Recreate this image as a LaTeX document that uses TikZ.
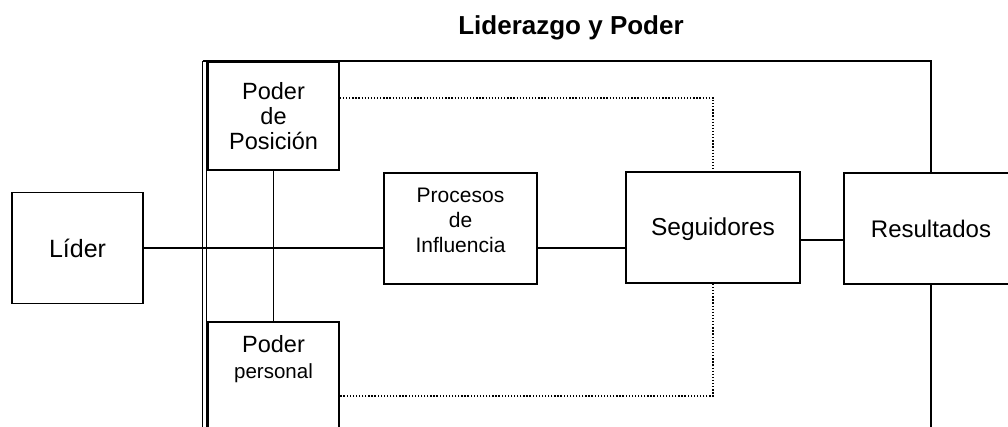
\documentclass[tikz,border=0pt]{standalone}
\usepackage{fontspec}
\setmainfont{Liberation Sans}
\begin{document}
\begin{tikzpicture}[x=1pt,y=-1pt,
  box/.style={draw,line width=1.6pt,rectangle,inner sep=0pt,align=center},
  conn/.style={line width=1.6pt},
  dots/.style={line width=1.3pt,dash pattern=on 1.3pt off 1.8pt}]
\useasboundingbox (0,0) rectangle (1008,426);
\clip (0,0) rectangle (1008,426);
\node[font=\bfseries\fontsize{26}{30}\selectfont] (title) at (571,28) {Liderazgo y Poder};
% boxes
\node[box,minimum width=131pt,minimum height=111pt,font=\fontsize{25}{30}\selectfont] (lider) at (77.5,248) {Líder};
\node[box,minimum width=131pt,minimum height=108pt,font=\fontsize{23.5}{25}\selectfont] (pos) at (273.5,116) {Poder\\de\\Posición};
\node[box,minimum width=131pt,minimum height=120pt,
  label={[anchor=north,inner sep=0pt,align=center,yshift=-14pt,font=\fontsize{23.5}{26}\selectfont]north:{Poder\\{\fontsize{20.5}{26}\selectfont personal}}}] (per) at (273.5,382) {};
\node[box,minimum width=153pt,minimum height=111pt,
  label={[align=center,yshift=8pt,font=\fontsize{21}{25}\selectfont]center:{Procesos\\de\\Influencia}}] (proc) at (460.5,228.5) {};
\node[box,minimum width=174pt,minimum height=111pt,font=\fontsize{24.5}{30}\selectfont,
  text height=18pt,text depth=3pt] (seg) at (713,227.5) {Seguidores};
\node[box,minimum width=174pt,minimum height=111pt,font=\fontsize{24}{30}\selectfont] (res) at (931,228.5) {Resultados};
% frame coordinates
\coordinate (tl) at (202.5,61);
\coordinate (tl2) at (206.5,61);
\coordinate (bl) at (202.5,430);
\coordinate (bl2) at (206.5,430);
\coordinate (bot) at (931,430);
\coordinate (sr) at (820,240);
\coordinate (dt) at (713,98);
\coordinate (db) at (713,396);
% double vertical line
\draw[conn,line width=1.2pt] (tl) -- (bl);
\draw[conn,line width=1.2pt] (tl2) -- (bl2);
% top frame
\draw[conn] (tl) -- (res.north |- tl) -- (res.north);
\draw[conn] (res.south) -- (bot);
% connectors
\draw[conn] (lider.east) -- (lider.east -| proc.west);
\draw[conn] (proc.east |- lider.east) -- (seg.west |- lider.east);
\draw[conn] (seg.east |- sr) -- (res.west |- sr);
\draw[conn] (pos.south) -- (per.north);
% dotted
\draw[dots] (pos.east |- dt) -- (dt) -- (seg.north);
\draw[dots] (seg.south) -- (db) -- (db -| per.east);
\end{tikzpicture}
\end{document}
